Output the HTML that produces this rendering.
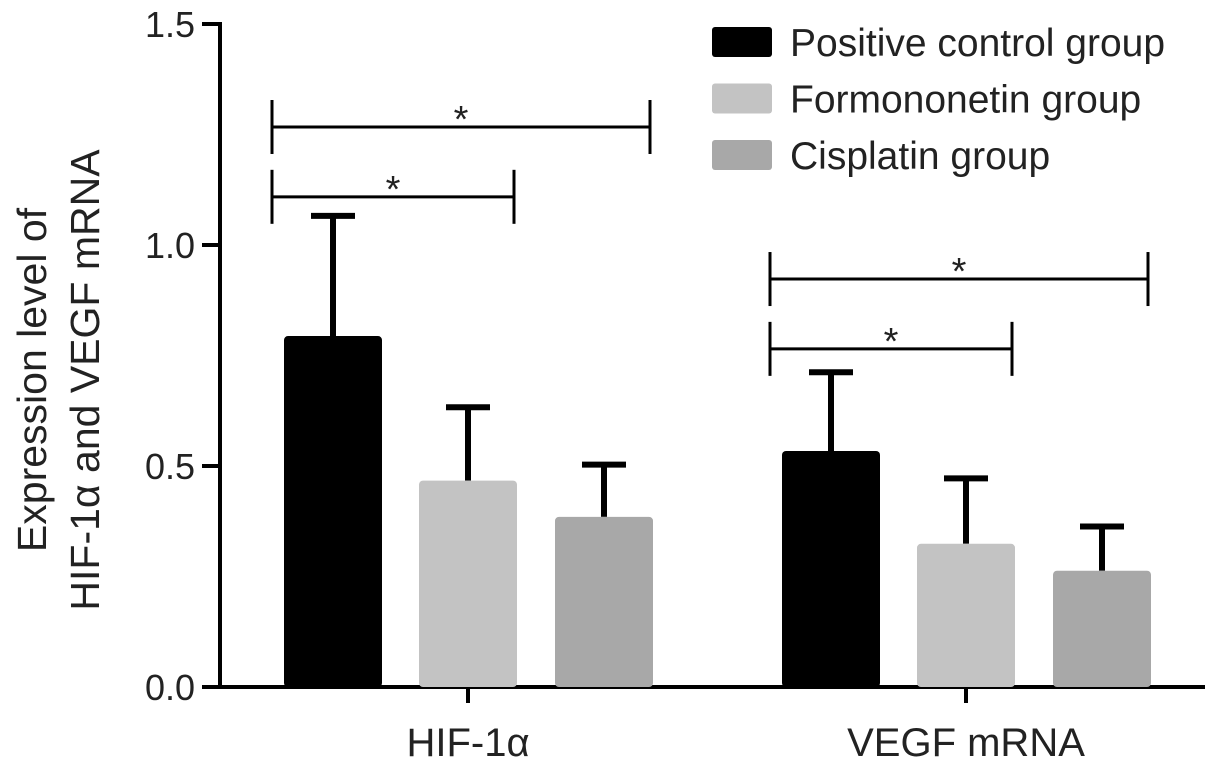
<!DOCTYPE html>
<html><head><meta charset="utf-8"><style>
html,body{margin:0;padding:0;background:#fff;}
svg{display:block;font-family:"Liberation Sans",Arial,sans-serif;}
</style></head><body>
<svg id="chart" width="1205" height="769" viewBox="0 0 1205 769">
<g id="axes"></g>
<g id="bars"></g>
<g id="sig"></g>
<g id="legend"></g>
<text transform="translate(46,380) rotate(-90)" text-anchor="middle" font-size="41" fill="#222">Expression level of</text>
<text transform="translate(99,380) rotate(-90)" text-anchor="middle" font-size="41" fill="#222">HIF-1α and VEGF mRNA</text>
</svg>
<script>
const categories = ["HIF-1α", "VEGF mRNA"];
const seriesNames = ["Positive control group", "Formononetin group", "Cisplatin group"];
const seriesColors = ["#000000", "#c3c3c3", "#a8a8a8"];
const meanPositive = [0.794, 0.534];
const meanFormononetin = [0.467, 0.324];
const meanCisplatin = [0.385, 0.263];
const errPositive = [0.272, 0.178];
const errFormononetin = [0.166, 0.148];
const errCisplatin = [0.118, 0.100];
const yTicks = [0.0, 0.5, 1.0, 1.5];
const yTickLabels = ["0.0", "0.5", "1.0", "1.5"];
const sigBrackets = [[0,0,1,1.109],[0,0,2,1.267],[1,0,1,0.765],[1,0,2,0.923]];

const NS="http://www.w3.org/2000/svg";
function mk(p,t,a){const e=document.createElementNS(NS,t);for(const k in a)e.setAttribute(k,a[k]);p.appendChild(e);return e;}
const y0=687, yScale=442, axX=220;
function y(v){return y0-v*yScale;}
const groupCenter=[468,966], barOff=[-135,0,136], barW=98;
function x(ci,si){return groupCenter[ci]+barOff[si];}

const axes=document.getElementById('axes');
let l=mk(axes,'line',{x1:axX,y1:y(1.5)-2,x2:axX,y2:y0+2,stroke:'#000','stroke-width':4});

l=mk(axes,'line',{x1:axX-2,y1:y0,x2:1205,y2:y0,stroke:'#000','stroke-width':4});

yTicks.forEach((t,i)=>{
  const tk=mk(axes,'line',{x1:202,y1:y(t),x2:axX,y2:y(t),stroke:'#000','stroke-width':4});
  
  const tx=mk(axes,'text',{x:195,y:y(t)+13,'text-anchor':'end','font-size':36,fill:'#222'});
  tx.textContent=yTickLabels[i];
  
});
categories.forEach((c,i)=>{
  const tk=mk(axes,'line',{x1:groupCenter[i],y1:y0,x2:groupCenter[i],y2:y0+16,stroke:'#000','stroke-width':4});
  
  const tx=mk(axes,'text',{x:groupCenter[i],y:756,'text-anchor':'middle','font-size':40,fill:'#222'});
  tx.textContent=c;
  
});

const bars=document.getElementById('bars');
const means=[meanPositive,meanFormononetin,meanCisplatin];
const errs=[errPositive,errFormononetin,errCisplatin];
categories.forEach((c,ci)=>{
  means.forEach((m,si)=>{
    const cx=x(ci,si), top=y(m[ci]), et=y(m[ci]+errs[si][ci]);
    const el=mk(bars,'line',{x1:cx,y1:top,x2:cx,y2:et,stroke:'#000','stroke-width':6});
    
    const cap=mk(bars,'line',{x1:cx-22,y1:et,x2:cx+22,y2:et,stroke:'#000','stroke-width':6});
    
    const r=mk(bars,'rect',{x:cx-barW/2,y:top,width:barW,height:y0-top,fill:seriesColors[si],rx:4});
    
  });
});

const sig=document.getElementById('sig');
sigBrackets.forEach(b=>{
  const x1=x(b[0],b[1])-barW/2-12, x2=x(b[0],b[2])+barW/2-3, yy=y(b[3]);
  const g=mk(sig,'g',{});
  
  mk(g,'line',{x1:x1,y1:yy,x2:x2,y2:yy,stroke:'#000','stroke-width':3});
  mk(g,'line',{x1:x1,y1:yy-27,x2:x1,y2:yy+27,stroke:'#000','stroke-width':3});
  mk(g,'line',{x1:x2,y1:yy-27,x2:x2,y2:yy+27,stroke:'#000','stroke-width':3});
  const t=mk(g,'text',{x:(x1+x2)/2,y:yy+5,'text-anchor':'middle','font-size':38,fill:'#222'});
  t.textContent='*';
});

const lg=document.getElementById('legend');
seriesNames.forEach((n,i)=>{
  const yy=27+i*56.5;
  const g=mk(lg,'g',{});
  
  mk(g,'rect',{x:712,y:yy,width:60,height:30,fill:seriesColors[i],rx:3});
  const t=mk(g,'text',{x:790,y:yy+29,'font-size':39,fill:'#222'});
  t.textContent=n;
});
</script>
</body></html>
